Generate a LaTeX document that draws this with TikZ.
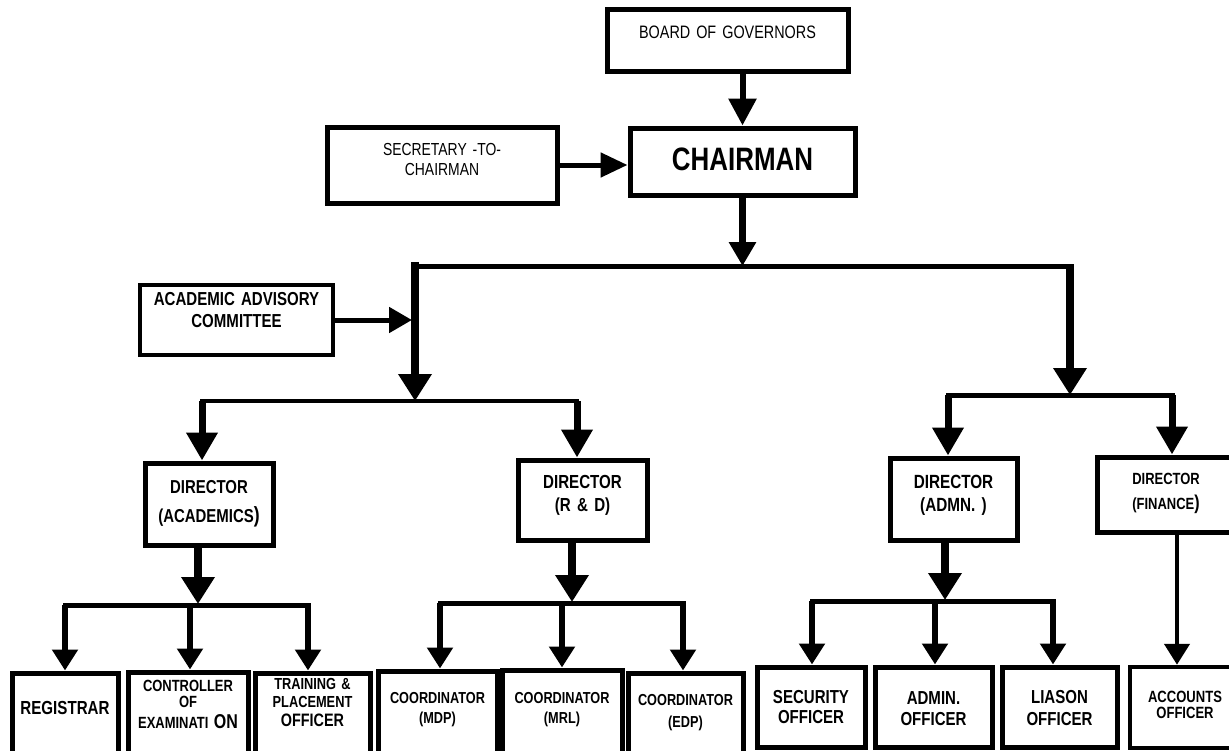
\documentclass[tikz,border=0pt]{standalone}
\usepackage{fontspec}
\setmainfont{Liberation Sans}[FakeStretch=0.8, WordSpace=0.6]
\usetikzlibrary{arrows.meta}
\newcommand{\setfs}[2]{\fontsize{#1}{#2}\selectfont}
\begin{document}
\begin{tikzpicture}[x=1pt, y=-1pt]
  \tikzstyle{box}=[draw, line width=5pt, inner sep=0pt, align=center]
  \tikzstyle{line}=[line width=5pt, line cap=rect]
  \tikzstyle{arrow}=[line width=5.5pt, -{Triangle[width=25pt, length=21pt]}]
  \tikzstyle{bigarrow}=[line width=7.5pt, -{Triangle[width=32pt, length=27pt]}]
  \useasboundingbox (0, 0) rectangle (1229, 750);
  \clip (0, 0) rectangle (1229, 750);

  % top of the chart
  \node[box, text width=241pt, text height=29pt, text depth=33pt,
        font=\setfs{18}{20}] (board) at (727.5, 40) {BOARD OF GOVERNORS};
  \node[box, text width=225pt, text height=42pt, text depth=25pt,
        font=\setfs{32.4}{34}\bfseries] (chairman) at (742.5, 161.5) {CHAIRMAN};
  \node[box, text width=230pt, text height=28.5pt, text depth=47.5pt,
        font=\setfs{17.4}{20}] (secretary) at (442, 165) {SECRETARY -TO-\\CHAIRMAN};
  \node[box, line width=4.5pt, text width=193pt, text height=20.3pt, text depth=49.7pt,
        font=\setfs{18.8}{22}\bfseries] (advisory) at (236.5, 320) {ACADEMIC ADVISORY\\COMMITTEE};

  % directors
  \node[box, text width=128pt, text height=30.3pt, text depth=51.7pt,
        font=\setfs{18.7}{29}\bfseries] (diracad) at (209, 504)
        {DIRECTOR\\(ACADEMICS{\setfs{22}{22})}};
  \node[box, text width=129pt, text height=28.4pt, text depth=51.6pt,
        font=\setfs{18.9}{23}\bfseries] (dirrd) at (582.5, 500) {DIRECTOR\\(R \& D)};
  \node[box, text width=127pt, text height=30.5pt, text depth=51.5pt,
        font=\setfs{19.1}{23}\bfseries] (diradmn) at (953.5, 499) {DIRECTOR\\(ADMN. )};
  \node[box, text width=138pt, text height=27pt, text depth=48pt,
        font=\setfs{16.2}{25}\bfseries] (dirfin) at (1166, 494.5)
        {DIRECTOR\\(FINANCE{\setfs{20}{20})}};

  % officers
  \node[box, text width=106pt, text height=41.4pt, text depth=45.6pt,
        font=\setfs{18.9}{20}\bfseries] (registrar) at (65, 716.5) {REGISTRAR};
  \node[box, text width=120pt, text height=19.5pt, text depth=68.5pt,
        font=\setfs{16.2}{15.5}\bfseries] (controller) at (188, 716)
        {CONTROLLER\\OF\\[6pt]EXAMINATI {\setfs{20}{20}ON}};
  \node[box, text width=115pt, text height=16.4pt, text depth=70.6pt,
        font=\setfs{16}{18}\bfseries] (training) at (312.5, 716.5)
        {TRAINING \&\\PLACEMENT\\[1pt]{\setfs{18}{18}OFFICER}};
  \node[box, text width=119pt, text height=32.4pt, text depth=56.6pt,
        font=\setfs{15.9}{20}\bfseries] (coordmdp) at (437.5, 715.5) {COORDINATOR\\(MDP)};
  \node[box, text width=120pt, text height=33.4pt, text depth=56.6pt,
        font=\setfs{15.9}{20}\bfseries] (coordmrl) at (562, 715) {COORDINATOR\\(MRL)};
  \node[box, text width=115pt, text height=32.4pt, text depth=54.6pt,
        font=\setfs{15.9}{22}\bfseries] (coordedp) at (685.5, 716.5) {COORDINATOR\\(EDP)};
  \node[box, text width=108pt, text height=36.3pt, text depth=43.7pt,
        font=\setfs{18.8}{20}\bfseries] (security) at (811, 707) {SECURITY\\OFFICER};
  \node[box, text width=117pt, text height=37.3pt, text depth=42.7pt,
        font=\setfs{18.8}{21}\bfseries] (admin) at (933.5, 707) {ADMIN.\\OFFICER};
  \node[box, text width=115pt, text height=36.3pt, text depth=43.7pt,
        font=\setfs{18.8}{22}\bfseries] (liason) at (1059.5, 707) {LIASON\\OFFICER};
  \node[box, line width=4.5pt, text width=110pt, text height=35.5pt, text depth=45.5pt,
        font=\setfs{16.3}{16}\bfseries] (accounts) at (1185, 707.5) {ACCOUNTS\\OFFICER};

  % junctions
  \coordinate (top)   at (742, 266);
  \coordinate (topL)  at (415, 266);
  \coordinate (topR)  at (1070, 266);
  \coordinate (midL)  at (415, 401);
  \coordinate (midR)  at (1070, 395);
  \coordinate (acadL) at (202, 401);
  \coordinate (rdR)   at (577, 401);
  \coordinate (admnL) at (948, 395);
  \coordinate (finR)  at (1172, 395);
  \coordinate (acadJ) at (198, 604);
  \coordinate (regX)  at (65, 605);
  \coordinate (conX)  at (190, 605);
  \coordinate (traX)  at (308, 605);
  \coordinate (rdJ)   at (572, 602);
  \coordinate (mdpX)  at (440, 603);
  \coordinate (mrlX)  at (562, 603);
  \coordinate (edpX)  at (683, 603);
  \coordinate (admnJ) at (945, 600);
  \coordinate (secX)  at (812, 601);
  \coordinate (admX)  at (935, 601);
  \coordinate (liaX)  at (1053, 601);
  \coordinate (finX)  at (1177, 532);

  % chairman
  \draw[arrow, line width=6pt, -{Triangle[width=27pt, length=27pt]}]
    (chairman.north |- board.south) -- (chairman.north);
  \draw[arrow, line width=5pt, -{Triangle[width=24pt, length=27pt]}]
    (secretary.east) -- (secretary.east -| chairman.west);
  \draw[bigarrow, -{Triangle[width=26pt, length=24pt]}]
    (chairman.south) -- (chairman.south |- top);
  \draw[line] (topL) -- (topR);
  \draw[bigarrow] ([yshift=4pt]topL) -- (midL);
  \draw[bigarrow] ([yshift=2pt]topR) -- (midR);
  \draw[arrow, line width=5pt, -{Triangle[width=25pt, length=23pt]}, shorten >=3pt]
    (advisory.east) -- (advisory.east -| topL);

  % directors
  \draw[line, line width=4.5pt] (acadL) -- (rdR);
  \draw[bigarrow, line width=7pt, -{Triangle[width=30pt, length=28pt]}]
    (acadL) -- (acadL |- diracad.north);
  \draw[bigarrow, line width=7pt, -{Triangle[width=30pt, length=28pt]}]
    (rdR) -- (rdR |- dirrd.north);
  \draw[line] (admnL) -- (finR);
  \draw[bigarrow, line width=7pt, -{Triangle[width=30pt, length=28pt]}]
    (admnL) -- (admnL |- diradmn.north);
  \draw[bigarrow, line width=7pt, -{Triangle[width=30pt, length=28pt]}]
    (finR) -- (finR |- dirfin.north);

  % officers
  \draw[bigarrow, line width=8pt] (acadJ |- diracad.south) -- (acadJ);
  \draw[line] (regX) -- (traX);
  \draw[arrow] (regX) -- (regX |- registrar.north);
  \draw[arrow] (conX) -- (conX |- controller.north);
  \draw[arrow] (traX) -- (traX |- training.north);

  \draw[bigarrow, line width=8pt] (rdJ |- dirrd.south) -- (rdJ);
  \draw[line] (mdpX) -- (edpX);
  \draw[arrow] (mdpX) -- (mdpX |- coordmdp.north);
  \draw[arrow] (mrlX) -- (mrlX |- coordmrl.north);
  \draw[arrow] (edpX) -- (edpX |- coordedp.north);

  \draw[bigarrow, line width=8pt] (admnJ |- diradmn.south) -- (admnJ);
  \draw[line] (secX) -- (liaX);
  \draw[arrow] (secX) -- (secX |- security.north);
  \draw[arrow] (admX) -- (admX |- admin.north);
  \draw[arrow] (liaX) -- (liaX |- liason.north);

  \draw[arrow, line width=4.5pt] (finX) -- (finX |- accounts.north);
\end{tikzpicture}
\end{document}
